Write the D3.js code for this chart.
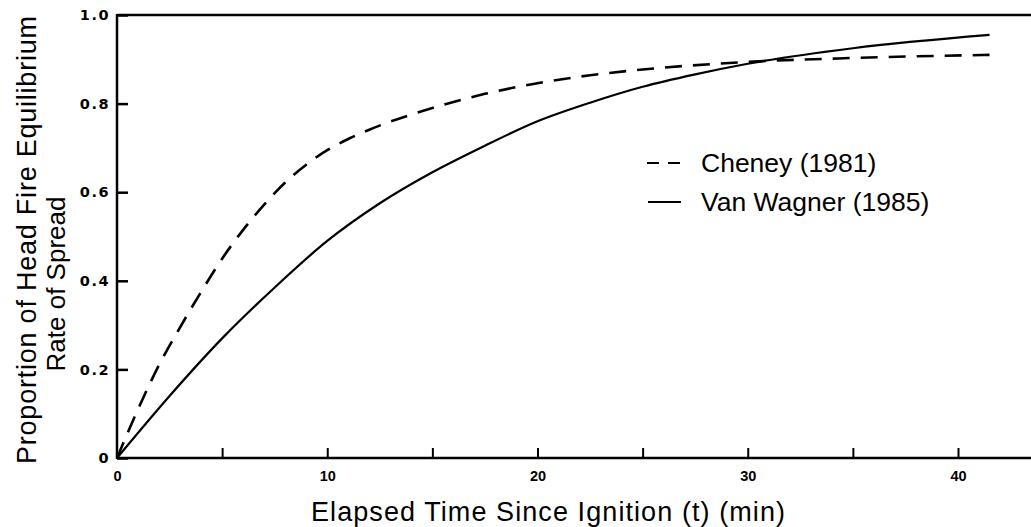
<!DOCTYPE html>
<html>
<head>
<meta charset="utf-8">
<script src="https://cdn.jsdelivr.net/npm/d3@7/dist/d3.min.js"></script>
<style>
  html, body { margin: 0; padding: 0; background: #fff; }
  svg { display: block; }
  text { font-family: "Liberation Sans", Arial, Helvetica, sans-serif; fill: #000; }
  .ylab { font-family: "DejaVu Sans", "Liberation Sans", sans-serif; font-size: 14.5px; font-weight: bold; letter-spacing: 1.5px; }
  .xlab { font-family: "Liberation Sans", Arial, sans-serif; font-size: 14.5px; font-weight: bold; }
</style>
</head>
<body>
<svg id="chart" width="1031" height="527"></svg>
<script>
// ---- data ----
const cheneyT   = [0, 1, 2, 3, 4, 5, 6, 7, 8, 9, 10, 11, 12, 15, 17.5, 20, 22.5, 25, 30, 35, 41.5];
const cheneyY   = [0, 0.11, 0.21, 0.295, 0.375, 0.45, 0.515, 0.572, 0.622, 0.662, 0.695, 0.72, 0.741, 0.79, 0.822, 0.846, 0.864, 0.877, 0.894, 0.903, 0.91];
const vanWagnerT = [0, 2.5, 5, 7.5, 10, 12.5, 15, 17.5, 20, 22.5, 25, 27.5, 30, 35, 41.5];
const vanWagnerY = [0, 0.14, 0.27, 0.385, 0.49, 0.575, 0.645, 0.705, 0.76, 0.802, 0.838, 0.866, 0.89, 0.925, 0.955];
const xMajorTicks = [0, 10, 20, 30, 40];
const xMinorTicks = [5, 15, 25, 35];
const yTicks = [0, 0.2, 0.4, 0.6, 0.8, 1.0];
const yTickLabels = ["0", "0.2", "0.4", "0.6", "0.8", "1.0"];
const legendLabels = ["Cheney (1981)", "Van Wagner (1985)"];
const xTitle = "Elapsed Time Since Ignition (t) (min)";
const yTitle1 = "Proportion of Head Fire Equilibrium";
const yTitle2 = "Rate of Spread";

// ---- layout ----
const svg = d3.select("#chart");
const pLeft = 117, pRight = 1031, pTop = 15, pBottom = 458;
const x = d3.scaleLinear().domain([0, 40]).range([pLeft, 958]);
const y = d3.scaleLinear().domain([0, 1]).range([pBottom, pTop]);

// frame: left axis, top line, bottom axis (no right border)
const frame = svg.append("g").attr("stroke", "#000").attr("stroke-width", 2.5).attr("fill", "none");
frame.append("line").attr("x1", pLeft).attr("x2", pLeft).attr("y1", pTop - 1).attr("y2", pBottom + 1);
frame.append("line").attr("x1", pLeft).attr("x2", pRight).attr("y1", pTop).attr("y2", pTop);
frame.append("line").attr("x1", pLeft).attr("x2", pRight).attr("y1", pBottom).attr("y2", pBottom);

// y axis ticks (inward)
const yAxis = d3.axisLeft(y).tickValues(yTicks).tickSizeInner(-11).tickSizeOuter(0)
  .tickPadding(10).tickFormat((d, i) => yTickLabels[i]);
const gy = svg.append("g").attr("transform", `translate(${pLeft},0)`).call(yAxis);
gy.attr("font-size", null).attr("font-family", null);
gy.select(".domain").remove();
gy.selectAll(".tick line").attr("stroke", "#000").attr("stroke-width", 2.5);
gy.selectAll(".tick text").attr("class", "ylab").attr("x", -7).style("fill", "#000");

// x axis ticks (inward, upward)
const xAxis = d3.axisBottom(x).tickValues(xMajorTicks).tickSizeInner(-10).tickSizeOuter(0)
  .tickPadding(14).tickFormat(d3.format("d"));
const gx = svg.append("g").attr("transform", `translate(0,${pBottom})`).call(xAxis);
gx.attr("font-size", null).attr("font-family", null);
gx.select(".domain").remove();
gx.selectAll(".tick line").attr("stroke", "#000").attr("stroke-width", 2);
gx.selectAll(".tick text").attr("class", "xlab").attr("y", 13).style("fill", "#000");
gx.selectAll(".tick").filter(d => d === 0).select("line").remove();

const gxm = svg.append("g").attr("transform", `translate(0,${pBottom})`)
  .call(d3.axisBottom(x).tickValues(xMinorTicks).tickSizeInner(-10).tickSizeOuter(0).tickFormat(""));
gxm.select(".domain").remove();
gxm.selectAll(".tick line").attr("stroke", "#000").attr("stroke-width", 2);

// curves
const line = d3.line().x(d => x(d[0])).y(d => y(d[1])).curve(d3.curveMonotoneX);
const cheney = cheneyT.map((t, i) => [t, cheneyY[i]]);
const vanWagner = vanWagnerT.map((t, i) => [t, vanWagnerY[i]]);

svg.append("path").datum(cheney).attr("d", line)
  .attr("fill", "none").attr("stroke", "#000").attr("stroke-width", 2.6)
  .attr("stroke-dasharray", "17,11");
svg.append("path").datum(vanWagner).attr("d", line)
  .attr("fill", "none").attr("stroke", "#000").attr("stroke-width", 2.2);

// legend
const lg = svg.append("g");
lg.append("line").attr("x1", 647).attr("x2", 680).attr("y1", 163).attr("y2", 163)
  .attr("stroke", "#000").attr("stroke-width", 2).attr("stroke-dasharray", "12,9");
lg.append("line").attr("x1", 648).attr("x2", 681).attr("y1", 202).attr("y2", 202)
  .attr("stroke", "#000").attr("stroke-width", 2);
lg.append("text").attr("x", 701).attr("y", 172).attr("font-size", 26.5).text(legendLabels[0]);
lg.append("text").attr("x", 701).attr("y", 211).attr("font-size", 26.5).text(legendLabels[1]);

// axis titles
svg.append("text").attr("x", 548).attr("y", 521).attr("text-anchor", "middle")
  .attr("font-size", 27).attr("textLength", 474).attr("lengthAdjust", "spacing").text(xTitle);
svg.append("text").attr("transform", "translate(36,240) rotate(-90)").attr("text-anchor", "middle")
  .attr("font-size", 27).attr("textLength", 448).attr("lengthAdjust", "spacing").text(yTitle1);
svg.append("text").attr("transform", "translate(65,284) rotate(-90)").attr("text-anchor", "middle")
  .attr("font-size", 26).text(yTitle2);
</script>
</body>
</html>
